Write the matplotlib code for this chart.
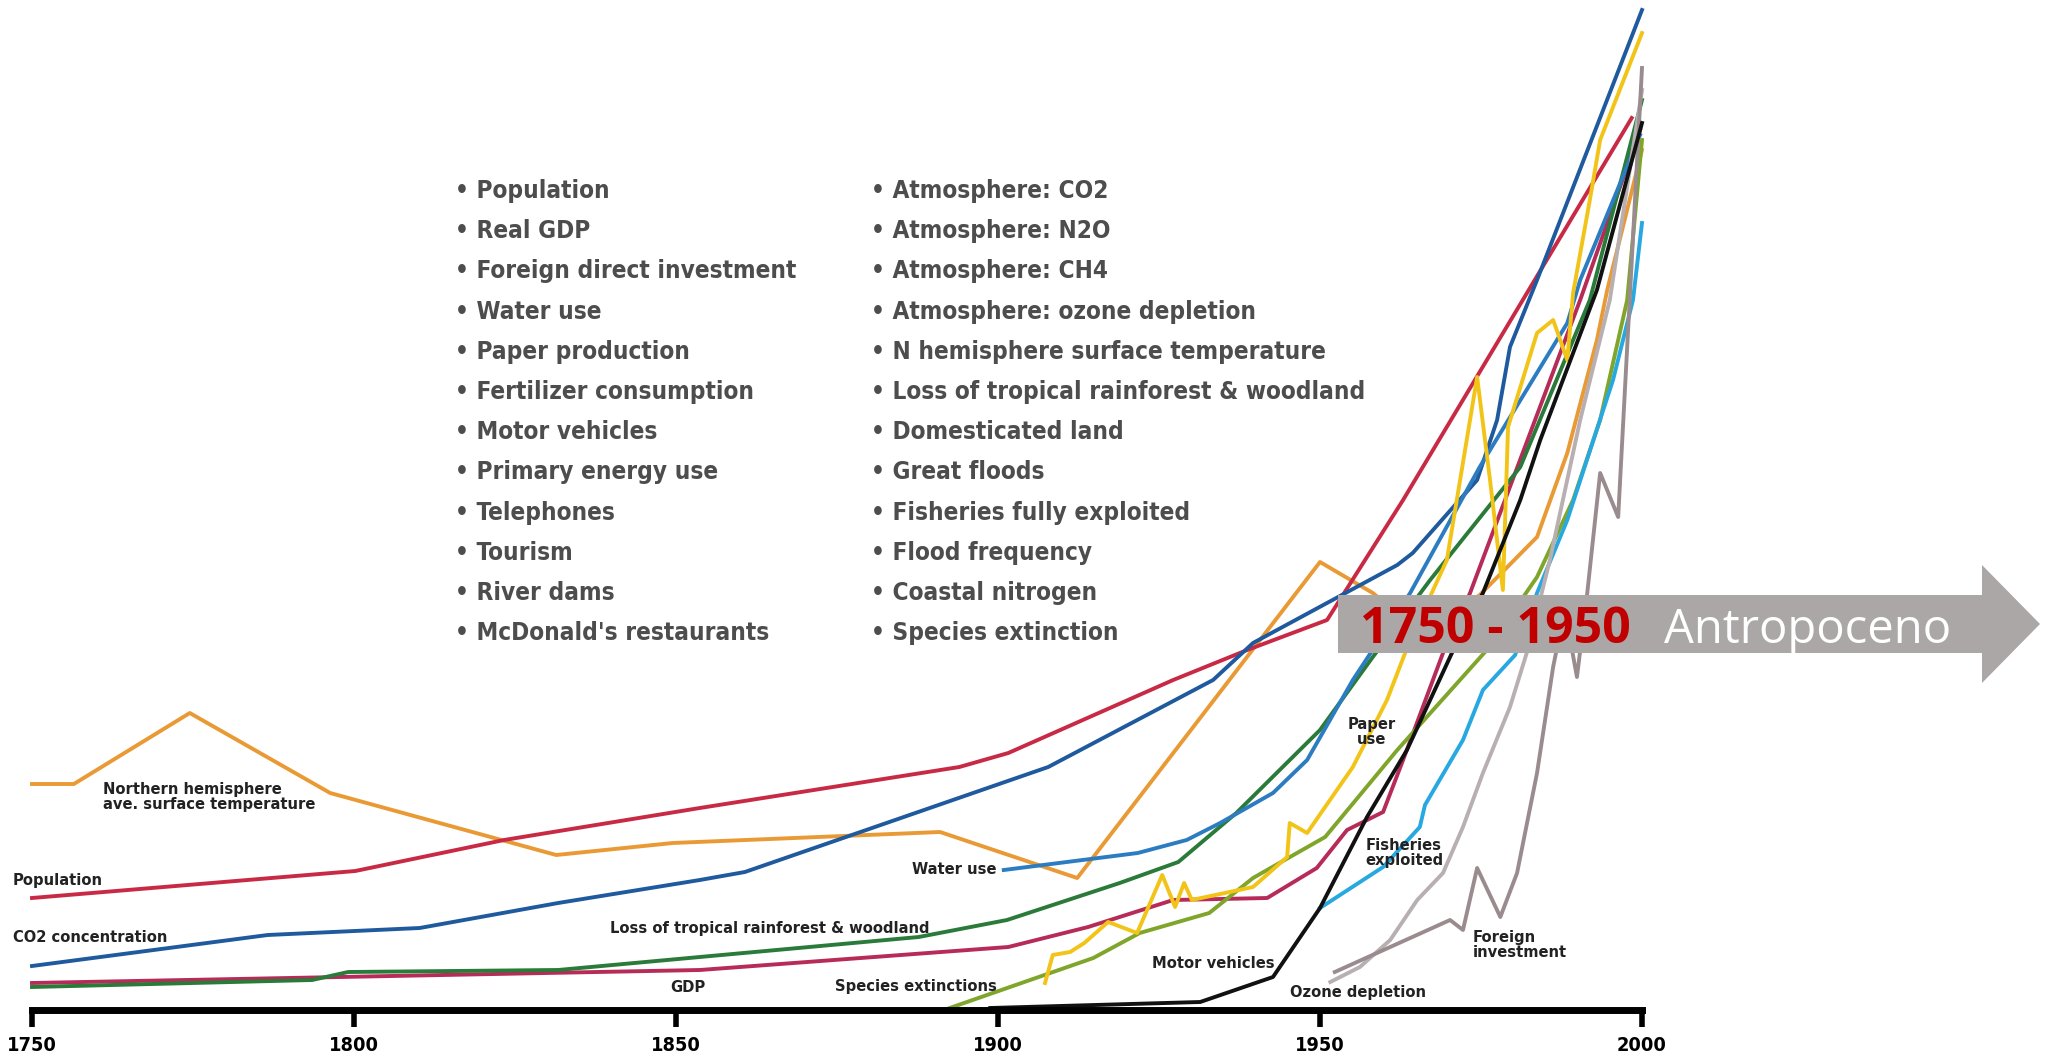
import matplotlib
matplotlib.use('Agg')
import matplotlib.pyplot as plt
from matplotlib import font_manager
from matplotlib.font_manager import FontProperties
from matplotlib.patches import Polygon

# ---- data (index height above baseline) ----
temp_years = [1750, 1756.5, 1774.5, 1796.3, 1831.4, 1849.5, 1891.0, 1912.3, 1950.0, 1958.2, 1966.3,
              1974.8, 1983.7, 1988.4, 1993.0, 1994.6, 2000]
temp_vals = [226, 226, 297, 217, 155, 167, 178, 132, 448, 417, 375, 415, 473, 557, 670, 720, 860]

pop_years = [1750, 1800.2, 1823.3, 1853.7, 1894.0, 1901.6, 1927.2, 1938.7, 1951.1, 1962.9, 1998.4]
pop_vals = [112, 139, 170, 202, 243, 257, 330, 360, 390, 510, 892]

co2_years = [1750, 1786.6, 1810.2, 1831.7, 1853.7, 1860.7, 1907.8, 1933.4, 1939.6, 1962.0, 1964.4,
             1974.4, 1977.5, 1979.5, 1983.7, 2000]
co2_vals = [44, 75, 82, 107, 130, 138, 243, 330, 367, 445, 457, 530, 590, 663, 730, 1000]

forest_years = [1750, 1793.5, 1799.1, 1831.7, 1853.7, 1887.7, 1901.4, 1918.9, 1928.0, 1937.0, 1950.0,
                1958.2, 1967.1, 1981.1, 1991.9, 2000]
forest_vals = [23, 30, 38, 40, 53, 73, 90, 127, 148, 197, 280, 353, 430, 543, 710, 910]

gdp_years = [1750, 1853.7, 1901.6, 1914.0, 1927.2, 1941.8, 1949.5, 1954.2, 1959.8, 1962.9, 1969.1,
             1973.3, 1990.4, 1999.7]
gdp_vals = [27, 40, 63, 83, 110, 112, 142, 180, 198, 250, 357, 417, 710, 880]

water_years = [1900.9, 1921.7, 1929.3, 1934.5, 1942.7, 1948.0, 1955.1, 1964.0, 1974.8, 1988.4, 1990.4, 1999.7]
water_vals = [140, 157, 170, 187, 217, 250, 330, 417, 543, 687, 730, 875]

paper_years = [1907.3, 1908.5, 1911.2, 1913.4, 1917.1, 1921.6, 1925.5, 1927.5, 1928.9, 1930.1, 1939.6,
               1944.9, 1945.3, 1948.0, 1955.1, 1960.4, 1964.0, 1969.7, 1974.4, 1976.4, 1978.4, 1979.2,
               1983.7, 1986.2, 1988.4, 1989.3, 1991.9, 1993.5, 2000]
paper_vals = [27, 55, 58, 67, 88, 77, 135, 103, 127, 110, 123, 153, 187, 177, 243, 310, 370, 450, 633,
              530, 420, 583, 677, 690, 650, 717, 810, 870, 977]

species_years = [1892.5, 1914.8, 1922.0, 1932.8, 1939.6, 1950.8, 1962.0, 1975.9, 1983.7, 1989.3, 1993.5,
                 1997.7, 2000]
species_vals = [2, 52, 77, 97, 132, 173, 260, 360, 433, 510, 590, 710, 870]

motor_years = [1898.8, 1931.4, 1942.7, 1950.0, 1957.3, 1963.5, 1970.7, 1975.3, 1981.1, 1984.2, 1993.0, 2000]
motor_vals = [2, 8, 33, 102, 193, 260, 360, 417, 510, 570, 720, 887]

fish_years = [1950.0, 1959.8, 1965.5, 1966.3, 1972.2, 1975.3, 1980.3, 1983.7, 1988.4, 1995.5, 1998.6, 2000]
fish_vals = [102, 143, 183, 205, 270, 320, 355, 417, 490, 630, 710, 787]

ozone_years = [1951.6, 1956.2, 1960.9, 1965.1, 1969.1, 1972.2, 1975.3, 1979.5, 1982.1, 1985.7, 1990.4,
               1995.0, 2000]
ozone_vals = [28, 43, 70, 110, 137, 183, 237, 303, 357, 450, 590, 710, 920]

fdi_years = [1952.3, 1970.2, 1972.2, 1974.4, 1978.0, 1980.6, 1983.7, 1986.2, 1988.0, 1989.9, 1991.5,
             1993.5, 1996.3, 2000]
fdi_vals = [38, 90, 80, 142, 93, 137, 237, 343, 400, 333, 417, 537, 493, 942]

tick_years = [1750, 1800, 1850, 1900, 1950, 2000]

left_items = ['Population', 'Real GDP', 'Foreign direct investment', 'Water use', 'Paper production',
              'Fertilizer consumption', 'Motor vehicles', 'Primary energy use', 'Telephones', 'Tourism',
              'River dams', "McDonald's restaurants"]
right_items = ['Atmosphere: CO2', 'Atmosphere: N2O', 'Atmosphere: CH4', 'Atmosphere: ozone depletion',
               'N hemisphere surface temperature', 'Loss of tropical rainforest & woodland',
               'Domesticated land', 'Great floods', 'Fisheries fully exploited', 'Flood frequency',
               'Coastal nitrogen', 'Species extinction']


# ---- fonts: look for a narrow/condensed bold face, else plain Liberation Sans ----
def pick_condensed():
    best = None
    for f in font_manager.fontManager.ttflist:
        narrow = ('Narrow' in f.name or 'Condensed' in f.name
                  or f.stretch in ('condensed', 'semi-condensed', 'extra-condensed'))
        if not narrow or f.style != 'normal':
            continue
        w = f.weight if isinstance(f.weight, int) else (700 if 'bold' in str(f.weight) else 400)
        if best is None or abs(w - 700) < abs(best[0] - 700):
            best = (w, f.fname)
    return best[1] if best else None


cond_file = pick_condensed()


def cfont(size):
    if cond_file:
        return FontProperties(fname=cond_file, size=size)
    return FontProperties(family='Liberation Sans', weight='bold', size=size)


W, H = 2056, 1063
fig = plt.figure(figsize=(W / 100, H / 100), dpi=100)
fig.patch.set_facecolor('white')


def fx(x):
    return x / W


def fy(y):
    return 1 - y / H


def width_scale(sample, target_px, size=20):
    # font size that makes `sample` about target_px wide
    t = fig.text(0, 0, sample, fontproperties=cfont(size))
    w = t.get_window_extent(fig.canvas.get_renderer()).width
    t.remove()
    return size * target_px / w


tick_size = width_scale('2000', 50)
label_size = width_scale('Loss of tropical rainforest & woodland', 318)
bullet_size = width_scale('\u2022 Foreign direct investment', 342)

ax = fig.add_axes([fx(32), 53 / H, 1610 / W, 1010 / H])
ax.set_xlim(1750, 2000)
ax.set_ylim(0, 1010)
ax.patch.set_alpha(0)

series = [
    (temp_years, temp_vals, '#E99A35'),
    (pop_years, pop_vals, '#C82A45'),
    (co2_years, co2_vals, '#1F5A9E'),
    (gdp_years, gdp_vals, '#B62B58'),
    (forest_years, forest_vals, '#2A7A3A'),
    (water_years, water_vals, '#2C7CC2'),
    (species_years, species_vals, '#7FA52A'),
    (paper_years, paper_vals, '#F2C418'),
    (fish_years, fish_vals, '#27A8E0'),
    (ozone_years, ozone_vals, '#B8AFB2'),
    (fdi_years, fdi_vals, '#9A8C8E'),
    (motor_years, motor_vals, '#111111'),
]
for xs, ys, c in series:
    ax.plot(xs, ys, color=c, lw=2.8, clip_on=False)

for s in ['left', 'right', 'top']:
    ax.spines[s].set_visible(False)
ax.spines['bottom'].set_linewidth(5)
ax.spines['bottom'].set_color('black')
ax.set_yticks([])
ax.set_xticks(tick_years)
ax.set_xticklabels([str(t) for t in tick_years])
ax.tick_params(axis='x', direction='out', length=12, width=4, pad=7)
for lab in ax.get_xticklabels():
    lab.set_fontproperties(cfont(tick_size))

# ---- line labels ----
labels = [
    (103, 797, 'Northern hemisphere\nave. surface temperature', 'left'),
    (13, 880, 'Population', 'left'),
    (13, 938, 'CO2 concentration', 'left'),
    (610, 928, 'Loss of tropical rainforest & woodland', 'left'),
    (670, 987, 'GDP', 'left'),
    (835, 987, 'Species extinctions', 'left'),
    (912, 870, 'Water use', 'left'),
    (1152, 963, 'Motor vehicles', 'left'),
    (1372, 732, 'Paper\nuse', 'center'),
    (1404, 853, 'Fisheries\nexploited', 'center'),
    (1290, 992, 'Ozone depletion', 'left'),
    (1473, 945, 'Foreign\ninvestment', 'left'),
]
for x, y, t, ha in labels:
    fig.text(fx(x), fy(y), t, ha=ha, va='center', linespacing=1.0, color='#222222',
             fontproperties=cfont(label_size))

# ---- bullet lists ----
for i, t in enumerate(left_items):
    fig.text(fx(455), fy(191 + i * 40.2), '\u2022 ' + t, va='center', color='#4d4d4d',
             fontproperties=cfont(bullet_size))
for i, t in enumerate(right_items):
    fig.text(fx(871), fy(191 + i * 40.2), '\u2022 ' + t, va='center', color='#4d4d4d',
             fontproperties=cfont(bullet_size))

# ---- arrow ----
pts = [(1338, 595), (1982, 595), (1982, 565), (2040, 624), (1982, 683), (1982, 653), (1338, 653)]
arrow = Polygon([(fx(x), fy(y)) for x, y in pts], closed=True, transform=fig.transFigure,
                facecolor='#ABA7A7', edgecolor='none', zorder=5)
fig.add_artist(arrow)
fig.text(fx(1360), fy(643), '1750 - 1950', family=['Open Sans', 'DejaVu Sans'], fontweight='bold',
         fontsize=36, color='#C00000', va='baseline', ha='left', zorder=6)
fig.text(fx(1664), fy(643), 'Antropoceno', family=['Open Sans', 'DejaVu Sans'], fontsize=34,
         color='white', va='baseline', ha='left', zorder=6)

fig.savefig('out.png', dpi=100, facecolor='white')
